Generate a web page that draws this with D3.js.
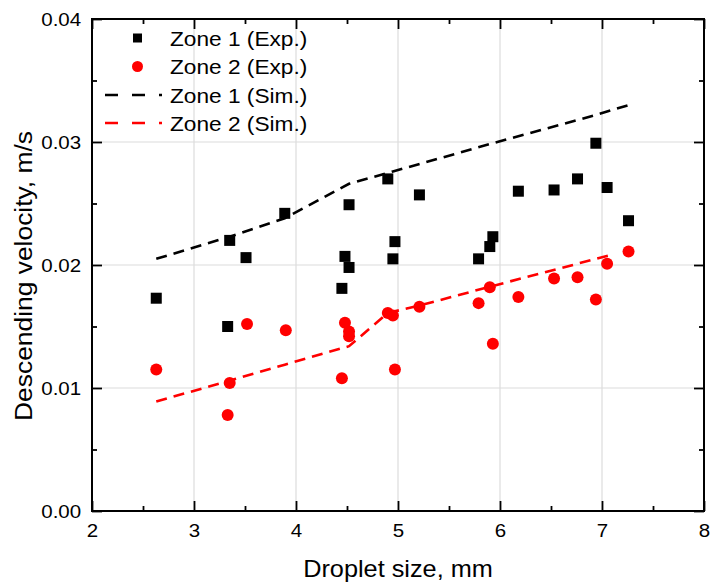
<!DOCTYPE html>
<html>
<head>
<meta charset="utf-8">
<script src="https://cdn.jsdelivr.net/npm/d3@7"></script>
<style>
  body { margin: 0; background: #fff; }
  text { font-family: 'Liberation Sans', Arial, sans-serif; fill: #000; }
</style>
</head>
<body>
<svg id="chart"></svg>
<script>
// experimental points, zone 1
const zone1Size = [2.63, 3.33, 3.35, 3.51, 3.89, 4.45, 4.48, 4.52, 4.52, 4.90, 4.95, 4.97, 5.21, 5.79, 5.90, 5.93, 6.18, 6.53, 6.76, 6.94, 7.05, 7.26]
const zone1Vel = [0.0173, 0.0150, 0.0220, 0.0206, 0.0242, 0.0181, 0.0207, 0.0249, 0.0198, 0.0270, 0.0205, 0.0219, 0.0257, 0.0205, 0.0215, 0.0223, 0.0260, 0.0261, 0.0270, 0.0299, 0.0263, 0.0236]

// experimental points, zone 2
const zone2Size = [2.63, 3.33, 3.35, 3.52, 3.90, 4.45, 4.48, 4.52, 4.52, 4.90, 4.95, 4.97, 5.21, 5.79, 5.90, 5.93, 6.18, 6.53, 6.76, 6.94, 7.05, 7.26]
const zone2Vel = [0.0115, 0.0078, 0.0104, 0.0152, 0.0147, 0.0108, 0.0153, 0.0146, 0.0142, 0.0161, 0.0159, 0.0115, 0.0166, 0.0169, 0.0182, 0.0136, 0.0174, 0.0189, 0.0190, 0.0172, 0.0201, 0.0211]

// simulation curves
const sim1Size = [2.63, 3.35, 3.89, 4.52, 4.95, 5.93, 6.94, 7.26]
const sim1Vel = [0.0205, 0.0223, 0.0238, 0.0266, 0.0276, 0.0299, 0.0322, 0.0330]
const sim2Size = [2.63, 3.35, 3.89, 4.52, 4.90, 5.21, 5.93, 7.08]
const sim2Vel = [0.0089, 0.0106, 0.0119, 0.0134, 0.0161, 0.0167, 0.0183, 0.0208]

const xTicks = [2, 3, 4, 5, 6, 7, 8]
const yTicks = [0, 0.01, 0.02, 0.03, 0.04]
const legendLabels = ['Zone 1 (Exp.)', 'Zone 2 (Exp.)', 'Zone 1 (Sim.)', 'Zone 2 (Sim.)']

const width = 710
const height = 583
const RED = '#f00'
const STRETCH = 1.08

const svg = d3.select('#chart').attr('width', width).attr('height', height)

const x = d3.scaleLinear().domain([2, 8]).range([92, 704])
const y = d3.scaleLinear().domain([0, 0.04]).range([511, 19])

const zip = (a, b) => a.map((v, i) => [v, b[i]])

// grid
svg.append('g')
  .selectAll('line')
  .data(xTicks.slice(1, -1))
  .join('line')
  .attr('x1', (d) => x(d)).attr('x2', (d) => x(d))
  .attr('y1', y(0)).attr('y2', y(0.04))
  .attr('stroke', '#dcdcdc').attr('stroke-width', 1.2)
svg.append('g')
  .selectAll('line')
  .data(yTicks.slice(1, -1))
  .join('line')
  .attr('y1', (d) => y(d)).attr('y2', (d) => y(d))
  .attr('x1', x(2)).attr('x2', x(8))
  .attr('stroke', '#dcdcdc').attr('stroke-width', 1.2)

// axes, ticks pointing inward
const xMinor = d3.range(2.5, 8, 1)
const yMinor = [0.005, 0.015, 0.025, 0.035]

function styleAxis(g) {
  g.select('.domain').remove()
  g.selectAll('line').attr('stroke', '#000').attr('stroke-width', 1.8)
  g.selectAll('text')
    .style('font-size', '19px')
    .style('font-family', "'Liberation Sans', Arial, sans-serif")
    .attr('fill', '#000')
    .attr('transform', `scale(${STRETCH},1)`)
}

svg.append('g').attr('transform', `translate(0,${y(0)})`)
  .call(d3.axisBottom(x).tickValues(xTicks).tickFormat(d3.format('d')).tickSize(-10).tickPadding(13))
  .call(styleAxis)
svg.append('g').attr('transform', `translate(0,${y(0)})`)
  .call(d3.axisBottom(x).tickValues(xMinor).tickFormat('').tickSize(-5))
  .call(styleAxis)
svg.append('g').attr('transform', `translate(0,${y(0.04)})`)
  .call(d3.axisTop(x).tickValues(xTicks).tickFormat('').tickSize(-10))
  .call(styleAxis)
svg.append('g').attr('transform', `translate(0,${y(0.04)})`)
  .call(d3.axisTop(x).tickValues(xMinor).tickFormat('').tickSize(-5))
  .call(styleAxis)

svg.append('g').attr('transform', `translate(${x(2)},0)`)
  .call(d3.axisLeft(y).tickValues(yTicks).tickFormat(d3.format('.2f')).tickSize(-10).tickPadding(10))
  .call(styleAxis)
svg.append('g').attr('transform', `translate(${x(2)},0)`)
  .call(d3.axisLeft(y).tickValues(yMinor).tickFormat('').tickSize(-5))
  .call(styleAxis)
svg.append('g').attr('transform', `translate(${x(8)},0)`)
  .call(d3.axisRight(y).tickValues(yTicks).tickFormat('').tickSize(-10))
  .call(styleAxis)
svg.append('g').attr('transform', `translate(${x(8)},0)`)
  .call(d3.axisRight(y).tickValues(yMinor).tickFormat('').tickSize(-5))
  .call(styleAxis)

// frame
svg.append('rect')
  .attr('x', x(2)).attr('y', y(0.04))
  .attr('width', x(8) - x(2)).attr('height', y(0) - y(0.04))
  .attr('fill', 'none').attr('stroke', '#000').attr('stroke-width', 2)

// simulation lines
const line = d3.line().x((d) => x(d[0])).y((d) => y(d[1]))
svg.append('path')
  .attr('d', line(zip(sim1Size, sim1Vel)))
  .attr('fill', 'none').attr('stroke', '#000')
  .attr('stroke-width', 2.6).attr('stroke-dasharray', '11,7')
svg.append('path')
  .attr('d', line(zip(sim2Size, sim2Vel)))
  .attr('fill', 'none').attr('stroke', RED)
  .attr('stroke-width', 2.6).attr('stroke-dasharray', '11,7')

// experimental points
const sq = 11
svg.append('g')
  .selectAll('rect')
  .data(zip(zone1Size, zone1Vel))
  .join('rect')
  .attr('x', (d) => x(d[0]) - sq / 2)
  .attr('y', (d) => y(d[1]) - sq / 2)
  .attr('width', sq).attr('height', sq)
  .attr('fill', '#000')
svg.append('g')
  .selectAll('circle')
  .data(zip(zone2Size, zone2Vel))
  .join('circle')
  .attr('cx', (d) => x(d[0]))
  .attr('cy', (d) => y(d[1]))
  .attr('r', 6)
  .attr('fill', RED)

// legend
const legend = svg.append('g')
const rowY = [38, 66.5, 95, 123]
legend.append('rect').attr('x', 133).attr('y', rowY[0] - 4.5).attr('width', 9).attr('height', 9).attr('fill', '#000')
legend.append('circle').attr('cx', 137.5).attr('cy', rowY[1]).attr('r', 5.5).attr('fill', RED)
legend.append('line').attr('x1', 105).attr('x2', 162).attr('y1', rowY[2]).attr('y2', rowY[2])
  .attr('stroke', '#000').attr('stroke-width', 2.6).attr('stroke-dasharray', '13,14')
legend.append('line').attr('x1', 105).attr('x2', 162).attr('y1', rowY[3]).attr('y2', rowY[3])
  .attr('stroke', RED).attr('stroke-width', 2.6).attr('stroke-dasharray', '13,14')
legend.selectAll('text')
  .data(legendLabels)
  .join('text')
  .attr('transform', (d, i) => `translate(170,${rowY[i] + 7.5}) scale(${STRETCH},1)`)
  .style('font-size', '21px')
  .text((d) => d)

// axis titles
svg.append('text')
  .attr('transform', `translate(398,577) scale(1.1,1)`)
  .attr('text-anchor', 'middle')
  .style('font-size', '23px')
  .text('Droplet size, mm')
svg.append('text')
  .attr('transform', `translate(32,276) rotate(-90) scale(1.1,1)`)
  .attr('text-anchor', 'middle')
  .style('font-size', '24px')
  .text('Descending velocity, m/s')
</script>
</body>
</html>
